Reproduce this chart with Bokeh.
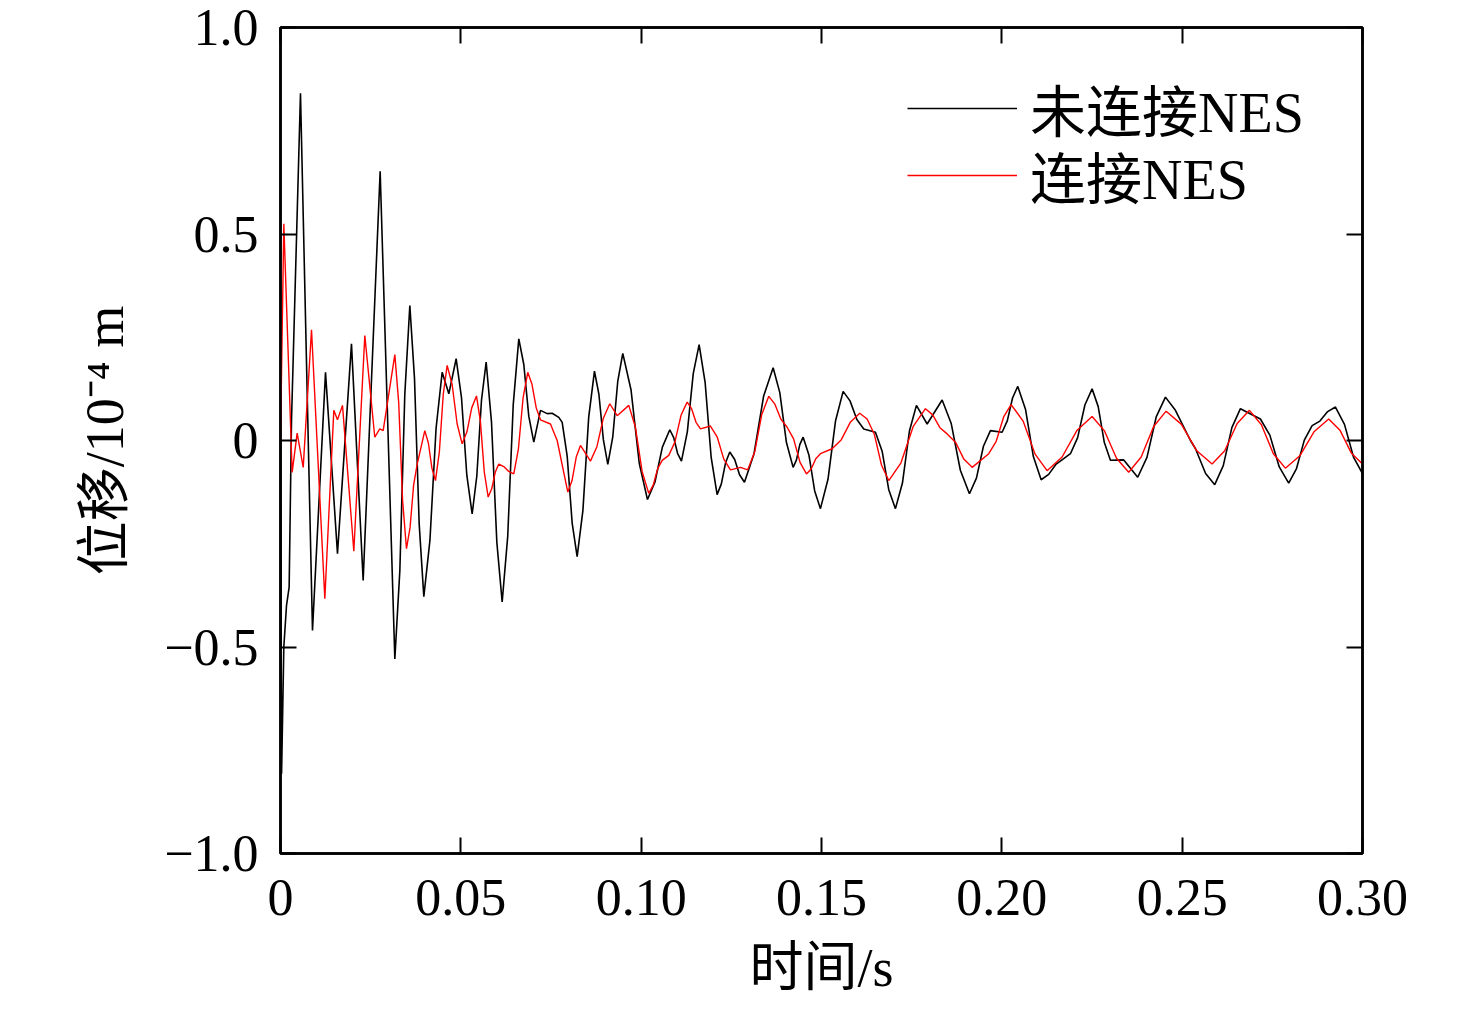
from bokeh.plotting import figure
from bokeh.models import (Range1d, LinearAxis, FixedTicker, CustomJSTickFormatter,
                          Legend, LegendItem)
from bokeh.embed import file_html
from bokeh.resources import INLINE

# ---------------- data ----------------
t_black = [0, 0.0003, 0.00092, 0.00166, 0.0024, 0.00305, 0.00554, 0.00887, 0.01248, 0.0158,
           0.01968, 0.02292, 0.02763, 0.0317, 0.03309, 0.03447, 0.03586, 0.03715, 0.03845, 0.03974,
           0.04143, 0.04313, 0.04482, 0.04667, 0.0487, 0.05018, 0.05166, 0.05314, 0.05443, 0.05573,
           0.05702, 0.0585, 0.05998, 0.06146, 0.063, 0.06453, 0.06607, 0.06746, 0.06884, 0.07023,
           0.07208, 0.07394, 0.07532, 0.07716, 0.0781, 0.07948, 0.08087, 0.08225, 0.08385, 0.08545,
           0.08705, 0.08828, 0.08952, 0.09075, 0.09213, 0.09352, 0.0949, 0.09718, 0.09947, 0.10175,
           0.10381, 0.10588, 0.10794, 0.10902, 0.11009, 0.11117, 0.1128, 0.11444, 0.11607, 0.11773,
           0.1194, 0.12106, 0.12223, 0.1234, 0.12457, 0.12593, 0.12728, 0.12864, 0.13129, 0.13394,
           0.13659, 0.13844, 0.14028, 0.14213, 0.14306, 0.14398, 0.14491, 0.14651, 0.14811, 0.14971,
           0.1518, 0.1539, 0.156, 0.15791, 0.15981, 0.16172, 0.16496, 0.16681, 0.16865, 0.1705,
           0.17244, 0.17438, 0.17632, 0.17929, 0.18345, 0.18597, 0.1885, 0.19102, 0.19296, 0.1949,
           0.19684, 0.20008, 0.20153, 0.20297, 0.20442, 0.20658, 0.20874, 0.2109, 0.21299, 0.21507,
           0.21716, 0.21902, 0.22102, 0.22303, 0.22503, 0.22672, 0.22842, 0.23011, 0.2338, 0.23768,
           0.24024, 0.2428, 0.24536, 0.24813, 0.2523, 0.2537, 0.2565, 0.25903, 0.2614, 0.26378,
           0.26615, 0.27169, 0.27431, 0.27692, 0.27954, 0.2817, 0.28387, 0.28603, 0.28819, 0.29034,
           0.2925, 0.295, 0.2975, 0.3]
v_black = [0, -0.807, -0.50, -0.40, -0.355, 0.048, 0.841, -0.46, 0.165, -0.274,
           0.234, -0.339, 0.652, -0.529, -0.315, 0.113, 0.327, 0.151, -0.202, -0.378,
           -0.242, 0.029, 0.165, 0.113, 0.198, 0.104, -0.084, -0.178, -0.086, 0.098,
           0.19, 0.045, -0.246, -0.391, -0.232, 0.087, 0.246, 0.184, 0.059, -0.004,
           0.073, 0.065, 0.066, 0.056, 0.044, -0.037, -0.2, -0.281, -0.169, 0.056,
           0.168, 0.112, 0.002, -0.058, 0.009, 0.144, 0.211, 0.123, -0.055, -0.143,
           -0.101, -0.016, 0.026, 0.007, -0.031, -0.05, 0.021, 0.162, 0.232, 0.141,
           -0.04, -0.131, -0.105, -0.054, -0.028, -0.046, -0.083, -0.101, -0.032, 0.107,
           0.176, 0.116, -0.005, -0.065, -0.047, -0.01, 0.008, -0.035, -0.122, -0.165,
           -0.094, 0.048, 0.119, 0.096, 0.051, 0.028, 0.02, -0.026, -0.119, -0.165,
           -0.103, 0.023, 0.085, 0.04, 0.098, 0.041, -0.072, -0.129, -0.091, -0.014,
           0.024, 0.02, 0.048, 0.103, 0.131, 0.075, -0.039, -0.095, -0.082, -0.057,
           -0.044, -0.032, 0.007, 0.086, 0.125, 0.082, -0.005, -0.048, -0.047, -0.089,
           -0.041, 0.057, 0.105, 0.073, 0.0, -0.02, -0.08, -0.107, -0.061, 0.031,
           0.077, 0.052, 0.013, -0.064, -0.103, -0.068, 0.001, 0.036, 0.047, 0.07,
           0.081, 0.039, -0.04, -0.08]

t_red = [0, 0.00092, 0.00323, 0.00462, 0.0063, 0.0086, 0.01229, 0.01478, 0.0158, 0.01719,
         0.02033, 0.02338, 0.02614, 0.02753, 0.02847, 0.0317, 0.03278, 0.03385, 0.03493, 0.03592,
         0.03691, 0.0379, 0.04001, 0.041, 0.04198, 0.04297, 0.04405, 0.04513, 0.04621, 0.0476,
         0.04898, 0.05037, 0.05169, 0.05302, 0.05434, 0.05542, 0.0565, 0.05758, 0.05856, 0.05954,
         0.06052, 0.06191, 0.06329, 0.06468, 0.06597, 0.06727, 0.06856, 0.06973, 0.0709, 0.07208,
         0.07485, 0.07671, 0.07966, 0.08083, 0.082, 0.08317, 0.08594, 0.08773, 0.08951, 0.0913,
         0.09335, 0.09657, 0.09841, 0.10026, 0.1021, 0.10334, 0.10458, 0.10582, 0.10765, 0.10935,
         0.11105, 0.11275, 0.11398, 0.11521, 0.11644, 0.11921, 0.12106, 0.12291, 0.12476, 0.12753,
         0.12955, 0.1315, 0.13344, 0.13538, 0.13708, 0.13878, 0.14048, 0.14226, 0.14405, 0.14583,
         0.14712, 0.14842, 0.14971, 0.15295, 0.1555, 0.15805, 0.16059, 0.16265, 0.16465, 0.16665,
         0.16865, 0.17204, 0.17543, 0.17882, 0.18083, 0.18283, 0.18484, 0.18715, 0.18946, 0.19177,
         0.19637, 0.19844, 0.2005, 0.20257, 0.2059, 0.20922, 0.21255, 0.21671, 0.22087, 0.22503,
         0.22841, 0.2318, 0.23518, 0.23864, 0.24209, 0.24555, 0.2498, 0.25405, 0.2583, 0.2618,
         0.26525, 0.26865, 0.27197, 0.27529, 0.27862, 0.28262, 0.28663, 0.29063, 0.29375, 0.29688,
         0.3]
v_red = [0, 0.525, -0.077, 0.018, -0.065, 0.268, -0.383, 0.073, 0.05, 0.085,
         -0.268, 0.254, 0.008, 0.028, 0.024, 0.208, 0.091, -0.145, -0.262, -0.211,
         -0.108, -0.057, 0.024, -0.006, -0.067, -0.097, -0.027, 0.112, 0.182, 0.135,
         0.04, -0.008, 0.021, 0.079, 0.108, 0.047, -0.076, -0.137, -0.117, -0.077,
         -0.057, -0.063, -0.075, -0.081, -0.02, 0.104, 0.165, 0.136, 0.079, 0.05,
         0.04, 0.0, -0.125, -0.097, -0.04, -0.012, -0.05, -0.015, 0.054, 0.089,
         0.06, 0.085, 0.032, -0.075, -0.128, -0.108, -0.068, -0.048, -0.036, -0.004,
         0.061, 0.093, 0.077, 0.044, 0.028, 0.035, 0.009, -0.045, -0.071, -0.065,
         -0.071, -0.027, 0.063, 0.107, 0.088, 0.051, 0.032, 0.004, -0.053, -0.081,
         -0.069, -0.044, -0.032, -0.02, 0.002, 0.045, 0.066, 0.052, 0.015, -0.06,
         -0.097, -0.054, 0.034, 0.077, 0.062, 0.031, 0.016, -0.004, -0.045, -0.065,
         -0.032, -0.002, 0.057, 0.087, 0.047, -0.033, -0.073, -0.04, 0.025, 0.058,
         0.024, -0.043, -0.077, -0.04, 0.034, 0.071, 0.039, -0.025, -0.057, -0.025,
         0.041, 0.073, 0.038, -0.032, -0.067, -0.037, 0.022, 0.052, 0.025, -0.03,
         -0.057]

x_ticks = [0, 0.05, 0.10, 0.15, 0.20, 0.25, 0.30]
x_tick_labels = ["0", "0.05", "0.10", "0.15", "0.20", "0.25", "0.30"]
y_ticks = [-1.0, -0.5, 0, 0.5, 1.0]
y_tick_labels = ["\u22121.0", "\u22120.5", "0", "0.5", "1.0"]
series_names = ["未连接NES", "连接NES"]
series_colors = ["#000000", "#ff0000"]
x_label = "时间/s"
y_label = "位移/10\u207b\u2074 m"

FONT = "Liberation Serif, Noto Sans CJK SC"
TICK_PX = "52px"
LABEL_PX = "54px"
LEGEND_PX = "56px"

W, H = 1476, 1009
p = figure(width=W, height=H, output_backend="svg", toolbar_location=None,
           x_range=Range1d(0, 0.30), y_range=Range1d(-1.0, 1.0),
           min_border_left=280, min_border_right=W - 1362,
           min_border_top=27, min_border_bottom=H - 853)
p.xgrid.visible = False
p.ygrid.visible = False
p.background_fill_color = "white"
p.border_fill_color = "white"
p.outline_line_color = "black"
p.outline_line_width = 2.5

r_black = p.line(t_black, v_black, line_color=series_colors[0], line_width=1.6)
r_red = p.line(t_red, v_red, line_color=series_colors[1], line_width=1.4)

fmt_code = """
let best = 0; let bd = Infinity;
for (let i = 0; i < tvals.length; i++) {
  const d = Math.abs(tvals[i] - tick);
  if (d < bd) { bd = d; best = i; }
}
return tlabels[best];
"""
xfmt = CustomJSTickFormatter(args=dict(tvals=x_ticks, tlabels=x_tick_labels), code=fmt_code)
yfmt = CustomJSTickFormatter(args=dict(tvals=y_ticks, tlabels=y_tick_labels), code=fmt_code)
blank = CustomJSTickFormatter(code="return '';")


def style(ax, tick_list):
    ax.ticker = FixedTicker(ticks=tick_list)
    ax.axis_line_width = 2.5
    ax.axis_line_color = "black"
    ax.major_tick_in = 16
    ax.major_tick_out = 0
    ax.major_tick_line_width = 2
    ax.major_tick_line_color = "black"
    ax.minor_tick_line_color = None
    ax.major_label_text_font = FONT
    ax.major_label_text_font_size = TICK_PX
    ax.major_label_text_color = "black"
    ax.axis_label_text_font = FONT
    ax.axis_label_text_font_size = LABEL_PX
    ax.axis_label_text_font_style = "normal"
    ax.axis_label_text_color = "black"


xa = p.xaxis[0]
style(xa, x_ticks)
xa.formatter = xfmt
xa.major_label_standoff = 26
xa.axis_label = x_label
xa.axis_label_standoff = 20

ya = p.yaxis[0]
style(ya, y_ticks)
ya.formatter = yfmt
ya.major_label_standoff = 22
ya.axis_label = y_label
ya.axis_label_standoff = 26

top = LinearAxis()
style(top, x_ticks)
top.formatter = blank
top.major_label_standoff = 0
top.major_label_text_font_size = "0px"
p.add_layout(top, "above")

right = LinearAxis()
style(right, y_ticks)
right.formatter = blank
right.major_label_standoff = 0
right.major_label_text_font_size = "0px"
p.add_layout(right, "right")


def make_legend(name, renderer, loc):
    return Legend(items=[LegendItem(label=name, renderers=[renderer])],
                  location=loc, orientation="vertical",
                  padding=0, margin=0, spacing=0,
                  glyph_width=110, glyph_height=78, label_height=78, label_standoff=13,
                  label_text_font=FONT, label_text_font_size=LEGEND_PX,
                  label_text_color="black", label_text_baseline="middle",
                  background_fill_alpha=0, border_line_alpha=0)


p.add_layout(make_legend(series_names[0], r_black, (627, 705)))
p.add_layout(make_legend(series_names[1], r_red, (627, 638)))

open("out.html", "w").write(file_html(p, INLINE))
